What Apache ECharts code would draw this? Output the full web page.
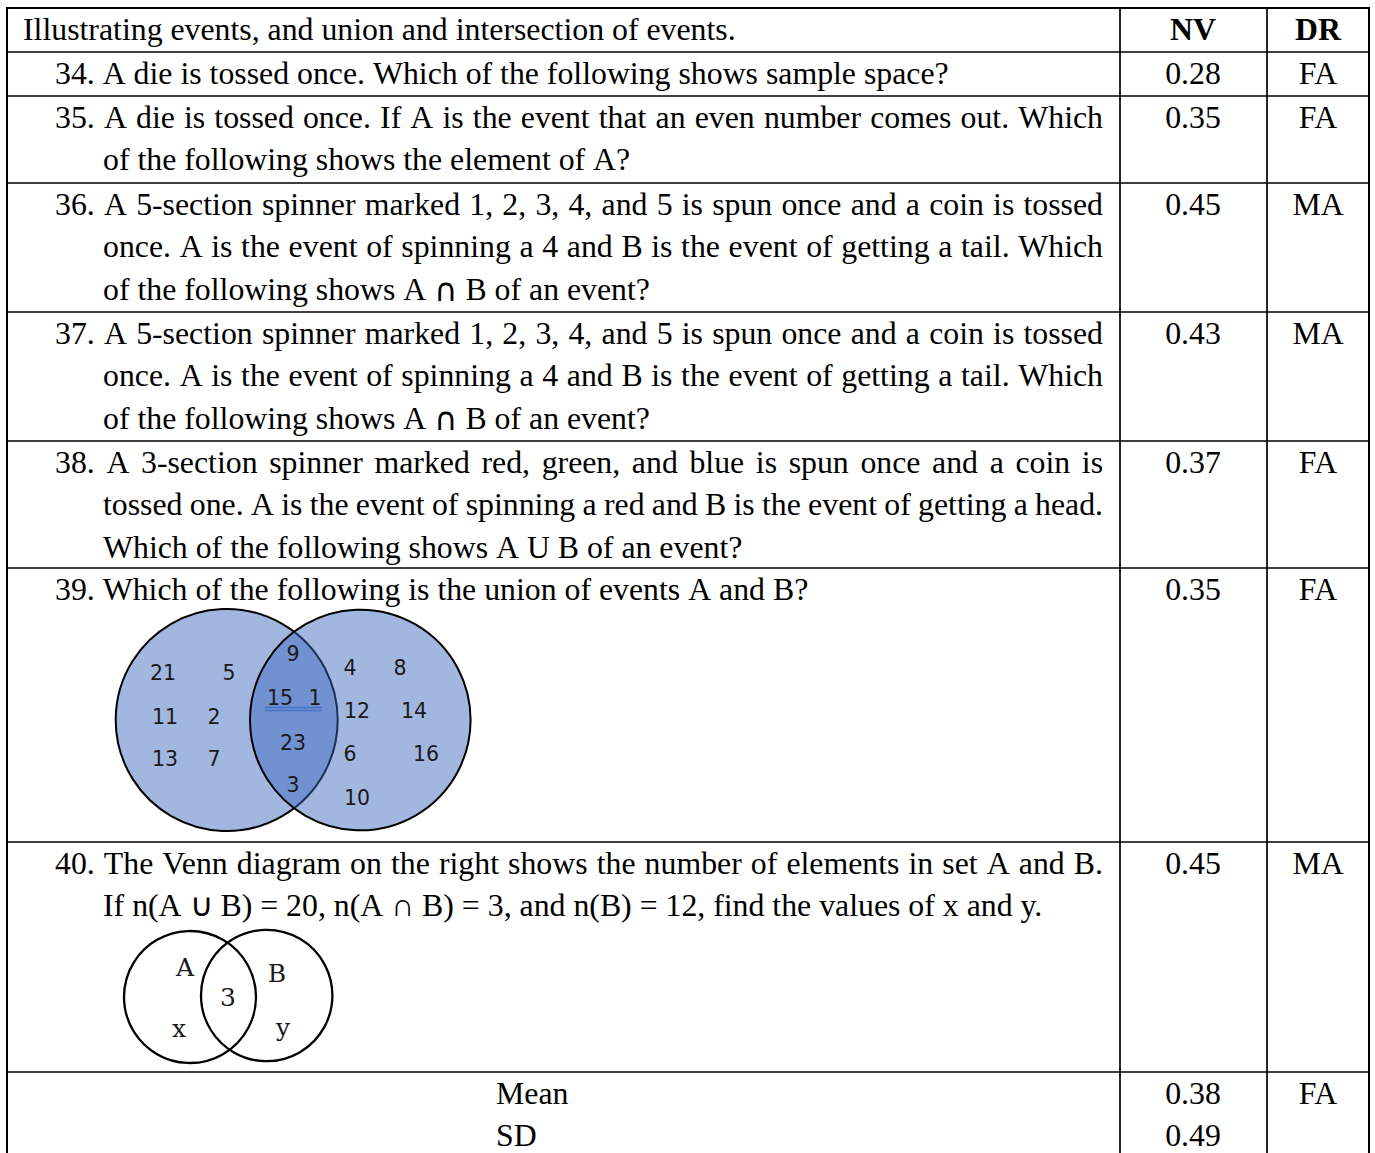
<!DOCTYPE html>
<html>
<head>
<meta charset="utf-8">
<title>Illustrating events, and union and intersection of events</title>
<script src="https://cdn.jsdelivr.net/npm/echarts@6/dist/echarts.min.js"></script>
<style>
  html, body { margin: 0; padding: 0; background: #fff; }
  #main { width: 1375px; height: 1153px; }
</style>
</head>
<body>
<div id="main"></div>
<script>
// ---- table content ----
var headerTitle = 'Illustrating events, and union and intersection of events.';
var headerCols = ['NV', 'DR'];
var questionLines = [
  ['34. A die is tossed once. Which of the following shows sample space?'],
  ['35. A die is tossed once. If A is the event that an even number comes out. Which',
   'of the following shows the element of A?'],
  ['36. A 5-section spinner marked 1, 2, 3, 4, and 5 is spun once and a coin is tossed',
   'once. A is the event of spinning a 4 and B is the event of getting a tail. Which',
   'of the following shows A \u2229 B of an event?'],
  ['37. A 5-section spinner marked 1, 2, 3, 4, and 5 is spun once and a coin is tossed',
   'once. A is the event of spinning a 4 and B is the event of getting a tail. Which',
   'of the following shows A \u2229 B of an event?'],
  ['38. A 3-section spinner marked red, green, and blue is spun once and a coin is',
   'tossed one. A is the event of spinning a red and B is the event of getting a head.',
   'Which of the following shows A U B of an event?'],
  ['39. Which of the following is the union of events A and B?'],
  ['40. The Venn diagram on the right shows the number of elements in set A and B.',
   'If n(A \u222A B) = 20, n(A \u2229 B) = 3, and n(B) = 12, find the values of x and y.']
];
var nvValues = ['0.28', '0.35', '0.45', '0.43', '0.37', '0.35', '0.45'];
var drValues = ['FA', 'FA', 'MA', 'MA', 'FA', 'FA', 'MA'];
var summaryLabels = ['Mean', 'SD'];
var summaryNV = ['0.38', '0.49'];
var summaryDR = ['FA', ''];

// venn figure of question 39
var vennOnlyA = ['21', '5', '11', '2', '13', '7'];
var vennBoth = ['9', '15', '1', '23', '3'];
var vennOnlyB = ['4', '8', '12', '14', '6', '16', '10'];
// venn figure of question 40
var venn2Labels = ['A', 'B', '3', 'x', 'y'];

// ---- layout (page pixels) ----
var FONT = '"Liberation Serif", "Times New Roman", serif';
var SYMBOL_FONT = '"DejaVu Sans", sans-serif';
var FONT_SIZE = 31.8;
var LINE_GAP = 42.8;
var FIRST_LINE = 21;
var TABLE_LEFT = 7, TABLE_RIGHT = 1369, COL_NV = 1120, COL_DR = 1267;
var TABLE_TOP = 8, PAGE_BOTTOM = 1153;
var HEADER_LEFT = 23, TEXT_LEFT = 55, HANG_LEFT = 103, TEXT_RIGHT = 1103, SUMMARY_LEFT = 496;
var NV_CENTER = 1193, DR_CENTER = 1318;
var rowHeights = [44, 44, 87, 129, 129, 127, 274, 230, 81];

// venn 1, offsets from row top
var venn1Circles = [[226.7, 152, 111], [360.3, 152, 110.3]];
var venn1PosA = [[163, 105], [229, 105], [165, 149], [214, 149], [165, 191], [214, 191]];
var venn1PosBoth = [[293, 86], [280, 130], [315, 130], [293, 175], [293, 217]];
var venn1PosB = [[350, 100], [400, 100], [357, 143], [414, 143], [350, 186], [426, 186], [357, 230]];
var venn1Underline = [265, 322, 139.5, 142.5];
// venn 2, offsets from row top
var venn2Circles = [[190, 155, 66], [266.7, 153.5, 65.7]];
var venn2Pos = [[185, 125], [277, 131], [228, 155], [179, 186], [283, 185]];

var rowTops = [];
(function () {
  var y = TABLE_TOP;
  rowHeights.forEach(function (h) { rowTops.push(y); y += h; });
})();

var measureCtx = document.createElement('canvas').getContext('2d');
function measure(s, family, size) {
  measureCtx.font = (size || FONT_SIZE) + 'px ' + family;
  return measureCtx.measureText(s).width;
}

// the cap sign in questions 36 and 37 comes from a sans symbol font
function wordFamily(q, w) {
  return (q === 2 || q === 3) && w === '\u2229' ? SYMBOL_FONT : FONT;
}

// split a line into words; justified lines are spread between x0 and x1
function layoutLine(q, line, x0, x1, justify) {
  var words = line.split(' ');
  var fams = words.map(function (w) { return wordFamily(q, w); });
  var widths = words.map(function (w, i) { return measure(w, fams[i]); });
  var total = widths.reduce(function (a, b) { return a + b; }, 0);
  var gap = justify ? (x1 - x0 - total) / (words.length - 1) : measure(' ', FONT);
  var out = [];
  var x = x0;
  words.forEach(function (w, i) {
    out.push({ text: w, x: x, family: fams[i] });
    x += widths[i] + gap;
  });
  return out;
}

function renderRow(params, api) {
  var idx = api.value(0);
  var top = rowTops[idx];
  var children = [];

  function pt(x, y) { return api.coord([x, y]); }
  function txt(s, x, y, align, opts) {
    opts = opts || {};
    var p = pt(x, y);
    children.push({
      type: 'text', x: p[0], y: p[1],
      style: {
        text: s,
        fill: opts.fill || '#000',
        fontFamily: opts.family || FONT,
        fontSize: opts.size || FONT_SIZE,
        fontWeight: opts.weight || 'normal',
        align: align,
        verticalAlign: 'middle'
      }
    });
  }
  function seg(a, b, color, w) {
    children.push({ type: 'line', shape: { x1: a[0], y1: a[1], x2: b[0], y2: b[1] },
      style: { stroke: color, lineWidth: w } });
  }
  function circle(c, fill, stroke, w) {
    var p = pt(c[0], top + c[1]);
    var r = api.size([c[2], 0])[0];
    children.push({ type: 'circle', shape: { cx: p[0], cy: p[1], r: r },
      style: { fill: fill, stroke: stroke, lineWidth: w } });
  }

  var bottom = idx === rowHeights.length - 1 ? PAGE_BOTTOM : top + rowHeights[idx];
  var lineY = function (i) { return top + FIRST_LINE + i * LINE_GAP; };

  if (idx === 0) {
    txt(headerTitle, HEADER_LEFT, lineY(0), 'left');
    txt(headerCols[0], NV_CENTER, lineY(0), 'center', { weight: 'bold' });
    txt(headerCols[1], DR_CENTER, lineY(0), 'center', { weight: 'bold' });
    seg(pt(TABLE_LEFT - 1, top), pt(TABLE_RIGHT + 1, top), '#000', 2);
  } else if (idx <= questionLines.length) {
    var q = idx - 1;
    var lines = questionLines[q];
    lines.forEach(function (line, i) {
      var x0 = i === 0 ? TEXT_LEFT : HANG_LEFT;
      var parts = layoutLine(q, line, x0, TEXT_RIGHT, i < lines.length - 1);
      parts.forEach(function (p) { txt(p.text, p.x, lineY(i), 'left', { family: p.family }); });
    });
    txt(nvValues[q], NV_CENTER, lineY(0), 'center');
    txt(drValues[q], DR_CENTER, lineY(0), 'center');

    if (q === 5) {
      // union figure
      circle(venn1Circles[0], 'rgba(58,103,189,0.47)', '#000', 2);
      circle(venn1Circles[1], 'rgba(58,103,189,0.47)', '#000', 2);
      var numOpts = { family: '"DejaVu Sans", Verdana, sans-serif', size: 20.5, fill: '#1a1a1a' };
      vennOnlyA.forEach(function (s, i) { txt(s, venn1PosA[i][0], top + venn1PosA[i][1], 'center', numOpts); });
      vennBoth.forEach(function (s, i) { txt(s, venn1PosBoth[i][0], top + venn1PosBoth[i][1], 'center', numOpts); });
      vennOnlyB.forEach(function (s, i) { txt(s, venn1PosB[i][0], top + venn1PosB[i][1], 'center', numOpts); });
      [venn1Underline[2], venn1Underline[3]].forEach(function (uy) {
        seg(pt(venn1Underline[0], top + uy), pt(venn1Underline[1], top + uy), '#4472c4', 1.3);
      });
    } else if (q === 6) {
      circle(venn2Circles[0], 'none', '#000', 2.3);
      circle(venn2Circles[1], 'none', '#000', 2.3);
      var letOpts = { family: '"DejaVu Serif", serif', size: 25, fill: '#1a1a1a' };
      venn2Labels.forEach(function (s, i) { txt(s, venn2Pos[i][0], top + venn2Pos[i][1], 'center', letOpts); });
    }
  } else {
    summaryLabels.forEach(function (s, i) {
      txt(s, SUMMARY_LEFT, lineY(i), 'left');
      txt(summaryNV[i], NV_CENTER, lineY(i), 'center');
      if (summaryDR[i]) txt(summaryDR[i], DR_CENTER, lineY(i), 'center');
    });
  }

  // cell borders
  if (idx > 0) seg(pt(TABLE_LEFT, top), pt(TABLE_RIGHT, top), '#000', 1.7);
  seg(pt(TABLE_LEFT, top), pt(TABLE_LEFT, bottom), '#000', 2);
  seg(pt(COL_NV, top), pt(COL_NV, bottom), '#000', 1.7);
  seg(pt(COL_DR, top), pt(COL_DR, bottom), '#000', 1.7);
  seg(pt(TABLE_RIGHT, top), pt(TABLE_RIGHT, bottom), '#000', 2);

  return { type: 'group', children: children };
}

var chart = echarts.init(document.getElementById('main'), null, { renderer: 'svg' });
chart.setOption({
  animation: false,
  backgroundColor: '#fff',
  grid: { left: 0, right: 0, top: 0, bottom: 0 },
  xAxis: { type: 'value', min: 0, max: 1375, show: false },
  yAxis: { type: 'value', min: 0, max: 1153, inverse: true, show: false },
  series: [{
    type: 'custom',
    coordinateSystem: 'cartesian2d',
    renderItem: renderRow,
    data: rowHeights.map(function (h, i) { return [i]; }),
    silent: true
  }]
});
</script>
</body>
</html>
